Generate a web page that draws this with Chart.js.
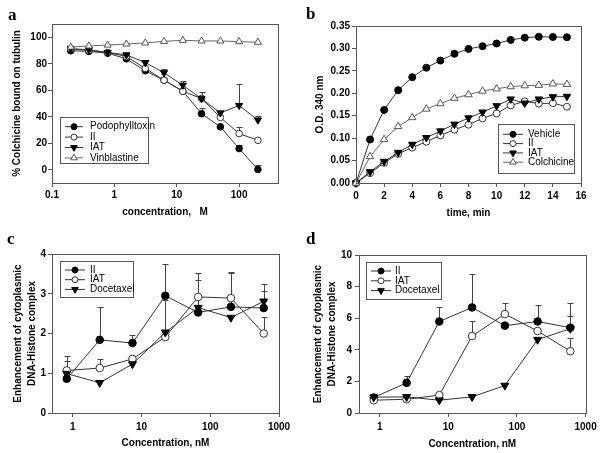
<!DOCTYPE html>
<html>
<head>
<meta charset="UTF-8">
<title>Tubulin / DNA-Histone figure</title>
<script src="https://cdn.jsdelivr.net/npm/chart.js@4"></script>
<style>
    body { margin: 0; background: #fff; }
    #fig { position: relative; width: 601px; height: 453px; }
    #fig canvas { position: absolute; left: 0; top: 0; }
</style>
</head>
<body>
<div id="fig">
    <canvas id="pa" width="601" height="453"></canvas>
    <canvas id="pb" width="601" height="453"></canvas>
    <canvas id="pc" width="601" height="453"></canvas>
    <canvas id="pd" width="601" height="453"></canvas>
</div>

<script>
// panel a - colchicine binding
const concA = [0.2, 0.39, 0.78, 1.56, 3.125, 6.25, 12.5, 25, 50, 100, 200];
const podoA = [89.8, 89.3, 88, 83.7, 74.7, 67.6, 59.4, 42.3, 32.4, 16, 0.2];
const podoErrA = [0, 0, 0, 0, 0, 0, 0, 4.4, 0, 2.6, 3.6];
const iiA = [91.3, 90, 88.5, 85.5, 76.5, 67.6, 59.2, 53.8, 39.5, 27.3, 22.2];
const iiErrA = [0, 0, 0, 0, 0, 0, 0, 0, 1, 5, 0];
const iatA = [91.3, 90.6, 88.5, 86.7, 80.9, 73.2, 63.8, 53.6, 42.9, 48.5, 37.5];
const iatErrA = [0, 0, 0, 0, 0, 2.8, 3, 5.1, 1.7, 16, 3.3];
const vinA = [92.6, 93.4, 94.1, 94.9, 95.7, 96.9, 97.7, 97.2, 97.2, 96.7, 96.2];
const xTicksA = [0.1, 1, 10, 100];
const xLabelsA = ['0.1', '1', '10', '100'];
const yTicksA = [0, 20, 40, 60, 80, 100];
const yLabelsA = ['0', '20', '40', '60', '80', '100'];

// panel b - polymerisation
const timeB = [0, 1, 2, 3, 4, 5, 6, 7, 8, 9, 10, 11, 12, 13, 14, 15];
const vehicleB = [0, 0.097, 0.163, 0.207, 0.236, 0.257, 0.273, 0.288, 0.299, 0.305, 0.311, 0.319, 0.324, 0.326, 0.3255, 0.325];
const iiB = [0, 0.022, 0.045, 0.065, 0.079, 0.092, 0.106, 0.119, 0.130, 0.144, 0.155, 0.173, 0.182, 0.177, 0.178, 0.170];
const iatB = [0, 0.025, 0.048, 0.068, 0.086, 0.101, 0.116, 0.131, 0.145, 0.158, 0.172, 0.187, 0.178, 0.187, 0.192, 0.193];
const colB = [0, 0.059, 0.097, 0.126, 0.146, 0.165, 0.177, 0.189, 0.197, 0.205, 0.210, 0.215, 0.217, 0.218, 0.221, 0.220];
const xTicksB = [0, 2, 4, 6, 8, 10, 12, 14, 16];
const xLabelsB = ['0', '2', '4', '6', '8', '10', '12', '14', '16'];
const yTicksB = [0, 0.05, 0.10, 0.15, 0.20, 0.25, 0.30, 0.35];
const yLabelsB = ['0.00', '0.05', '0.10', '0.15', '0.20', '0.25', '0.30', '0.35'];

// panels c and d - DNA-histone enhancement
const concCD = [0.82, 2.47, 7.4, 22.2, 66.7, 200, 600];
const xTicksCD = [1, 10, 100, 1000];
const xLabelsCD = ['1', '10', '100', '1000'];

const iiC = [0.86, 1.84, 1.76, 2.95, 2.53, 2.67, 2.64];
const iiErrC = [0.57, 0.83, 0.21, 0.80, 0.82, 0.88, 0.61];
const iatC = [1.07, 1.13, 1.36, 1.91, 2.92, 2.89, 2.0];
const iatErrC = [0, 0.24, 0, 0, 0.61, 0.64, 0.41];
const docC = [0.99, 0.76, 1.23, 2.03, 2.65, 2.40, 2.81];
const docErrC = [0.33, 0, 0, 0.82, 0, 0, 0.27];
const yTicksC = [0, 1, 2, 3, 4];
const yLabelsC = ['0', '1', '2', '3', '4'];

const iiD = [0.98, 1.91, 5.79, 6.68, 5.53, 5.79, 5.40];
const iiErrD = [0, 0.45, 0.93, 2.09, 0, 1.06, 1.58];
const iatD = [0.81, 0.87, 1.13, 4.87, 6.26, 5.19, 3.91];
const iatErrD = [0, 0, 0, 0.96, 0.72, 0, 0.83];
const docD = [1.0, 1.02, 0.81, 1.02, 1.74, 4.64, 5.34];
const docErrD = [0, 0, 0, 0, 0, 0, 0.81];
const yTicksD = [0, 2, 4, 6, 8, 10];
const yLabelsD = ['0', '2', '4', '6', '8', '10'];

const FONT = '"Liberation Sans", Arial, sans-serif';
Chart.defaults.font.family = FONT;
Chart.defaults.color = '#000';
Chart.defaults.animation = false;

const tickFont = { size: 10, weight: 'bold' };
const axisColor = '#555';

// marker looks
const filledCircle = { pointStyle: 'circle', pointRotation: 0, pointBackgroundColor: '#000', pointBorderColor: '#000', borderColor: '#333' };
const openCircle = { pointStyle: 'circle', pointRotation: 0, pointBackgroundColor: '#fff', pointBorderColor: '#333', borderColor: '#333' };
const downTri = { pointStyle: 'triangle', pointRotation: 180, pointBackgroundColor: '#000', pointBorderColor: '#000', borderColor: '#333' };
const openTri = { pointStyle: 'triangle', pointRotation: 0, pointBackgroundColor: '#fff', pointBorderColor: '#555', borderColor: '#666' };

// later series sit on top, as in the original figure
function series(label, xs, ys, errs, look, r, idx) {
    return Object.assign({
        label: label,
        data: xs.map((x, i) => ({ x: x, y: ys[i] })),
        errUp: errs,
        order: -idx,
        borderWidth: 1,
        pointRadius: look.pointStyle === 'triangle' ? r + 0.8 : r,
        pointBorderWidth: 1,
        tension: 0,
        clip: false
    }, look);
}

// vertical error bars, up only
const errorBars = {
    id: 'errorBars',
    beforeDatasetsDraw(chart) {
        const { ctx, scales: { x, y } } = chart;
        ctx.save();
        ctx.strokeStyle = '#444';
        ctx.lineWidth = 1;
        chart.data.datasets.forEach(ds => {
            if (!ds.errUp) return;
            ds.data.forEach((p, i) => {
                const e = ds.errUp[i];
                if (!e) return;
                const px = Math.round(x.getPixelForValue(p.x)) + 0.5;
                const y0 = y.getPixelForValue(p.y);
                const y1 = Math.round(y.getPixelForValue(p.y + e)) + 0.5;
                ctx.beginPath();
                ctx.moveTo(px, y0);
                ctx.lineTo(px, y1);
                ctx.moveTo(px - 3, y1);
                ctx.lineTo(px + 3, y1);
                ctx.stroke();
            });
        });
        ctx.restore();
    }
};

// legend box inside the plot
const boxLegend = {
    id: 'boxLegend',
    afterDatasetsDraw(chart, args, o) {
        if (!o.box) return;
        const ctx = chart.ctx;
        const [x0, y0, x1, y1] = o.box;
        ctx.save();
        ctx.fillStyle = '#fff';
        ctx.fillRect(x0, y0, x1 - x0, y1 - y0);
        ctx.strokeStyle = axisColor;
        ctx.lineWidth = 1;
        ctx.strokeRect(x0 + 0.5, y0 + 0.5, x1 - x0, y1 - y0);
        ctx.font = '10px ' + FONT;
        ctx.textBaseline = 'middle';
        chart.data.datasets.forEach((ds, i) => {
            const yy = o.rowY + i * o.rowH;
            ctx.strokeStyle = ds.borderColor;
            ctx.beginPath();
            ctx.moveTo(o.lineX[0], yy);
            ctx.lineTo(o.lineX[1], yy);
            ctx.stroke();
            ctx.fillStyle = ds.pointBackgroundColor;
            ctx.strokeStyle = ds.pointBorderColor;
            const rr = ds.pointStyle === 'triangle' ? o.r + 0.8 : o.r;
            Chart.helpers.drawPoint(ctx, { pointStyle: ds.pointStyle, rotation: ds.pointRotation, radius: rr, borderWidth: 1 },
                (o.lineX[0] + o.lineX[1]) / 2, yy);
            ctx.fillStyle = '#000';
            ctx.fillText(ds.label, o.textX, yy);
        });
        ctx.restore();
    }
};

// full frame + panel letter
const frame = {
    id: 'frame',
    afterDraw(chart, args, o) {
        const { ctx, chartArea: a } = chart;
        ctx.save();
        ctx.strokeStyle = axisColor;
        ctx.lineWidth = 1;
        ctx.strokeRect(Math.round(a.left) + 0.5, Math.round(a.top) + 0.5,
            Math.round(a.right - a.left), Math.round(a.bottom - a.top));
        if (o.letter) {
            ctx.font = 'bold 17px "Liberation Serif", serif';
            ctx.fillStyle = '#000';
            ctx.textBaseline = 'alphabetic';
            ctx.fillText(o.letter, o.lx, o.ly);
        }
        ctx.restore();
    }
};

Chart.register(errorBars, boxLegend, frame);

function xAxis(type, min, max, ticks, labels, title, h, tickPad, titlePad) {
    return {
        type: type, min: min, max: max,
        afterFit: s => { s.height = h; },
        afterBuildTicks: s => { s.ticks = ticks.map(v => ({ value: v })); },
        ticks: { callback: v => labels[ticks.indexOf(v)], font: tickFont, padding: tickPad, maxRotation: 0, autoSkip: false },
        grid: { drawOnChartArea: false, tickLength: 4, color: axisColor },
        border: { color: axisColor },
        title: { display: true, text: title, font: { size: 10, weight: 'bold', lineHeight: 1.2 }, padding: { top: 0, bottom: titlePad } }
    };
}

function yAxis(min, max, ticks, labels, title, w, tickPad, titlePad, lh) {
    return {
        type: 'linear', min: min, max: max,
        afterFit: s => { s.width = w; },
        afterBuildTicks: s => { s.ticks = ticks.map(v => ({ value: v })); },
        ticks: { callback: v => labels[ticks.indexOf(v)], font: tickFont, padding: tickPad, autoSkip: false },
        grid: { drawOnChartArea: false, tickLength: 4, color: axisColor },
        border: { color: axisColor },
        title: { display: true, text: title, font: { size: 10, weight: 'bold', lineHeight: lh }, padding: { top: titlePad, bottom: 0 } }
    };
}

function panel(id, datasets, x, y, pad, legend, letter) {
    new Chart(document.getElementById(id), {
        type: 'line',
        data: { datasets: datasets },
        options: {
            responsive: false,
            layout: { padding: pad },
            scales: { x: x, y: y },
            plugins: {
                legend: { display: false },
                tooltip: { enabled: false },
                boxLegend: legend,
                frame: letter
            }
        }
    });
}

panel('pa', [
    series('Podophylltoxin', concA, podoA, podoErrA, filledCircle, 3.3, 0),
    series('II', concA, iiA, iiErrA, openCircle, 3.3, 1),
    series('IAT', concA, iatA, iatErrA, downTri, 3.3, 2),
    series('Vinblastine', concA, vinA, null, openTri, 3.3, 3)
],
    xAxis('logarithmic', 0.1, 420, xTicksA, xLabelsA, 'concentration,   M', 36, 2.5, 1),
    yAxis(-10, 110, yTicksA, yLabelsA, '% Colchicine bound on tubulin', 47, 1, 6.5, 1.2),
    { left: 5, top: 24, right: 323, bottom: 234 },
    { box: [60, 117, 148, 163], rowY: 126.7, rowH: 10.4, lineX: [65, 83], textX: 90, r: 3 },
    { letter: 'a', lx: 8, ly: 20 });

panel('pb', [
    series('Vehicle', timeB, vehicleB, null, filledCircle, 3.5, 0),
    series('II', timeB, iiB, null, openCircle, 3.5, 1),
    series('IAT', timeB, iatB, null, downTri, 3.5, 2),
    series('Colchicine', timeB, colB, null, openTri, 3.5, 3)
],
    xAxis('linear', 0, 16, xTicksB, xLabelsB, 'time, min', 36, 3.7, 0),
    yAxis(0, 0.35, yTicksB, yLabelsB, 'O.D. 340 nm', 47, 2, 5.7, 1.2),
    { left: 309, top: 26, right: 20, bottom: 234 },
    { box: [498, 124, 574, 173], rowY: 134.3, rowH: 9.3, lineX: [503, 523], textX: 528, r: 3 },
    { letter: 'b', lx: 306, ly: 19 });

panel('pc', [
    series('II', concCD, iiC, iiErrC, filledCircle, 3.8, 0),
    series('IAT', concCD, iatC, iatErrC, openCircle, 3.8, 1),
    series('Docetaxel', concCD, docC, docErrC, downTri, 3.8, 2)
],
    xAxis('logarithmic', 0.5, 1000, xTicksCD, xLabelsCD, 'Concentration, nM', 36, 4, 0),
    yAxis(0, 4, yTicksC, yLabelsC, ['Enhancement of cytoplasmic', 'DNA-Histone complex'], 47, 2, 6.3, 1.4),
    { left: 5, top: 254, right: 322, bottom: 4 },
    { box: [60, 261, 133, 297], rowY: 270, rowH: 9.7, lineX: [65, 85], textX: 90, r: 3 },
    { letter: 'c', lx: 7, ly: 244 });

panel('pd', [
    series('II', concCD, iiD, iiErrD, filledCircle, 3.8, 0),
    series('IAT', concCD, iatD, iatErrD, openCircle, 3.8, 1),
    series('Docetaxel', concCD, docD, docErrD, downTri, 3.8, 2)
],
    xAxis('logarithmic', 0.5, 1000, xTicksCD, xLabelsCD, 'Concentration, nM', 37, 4.3, 0),
    yAxis(0, 10, yTicksD, yLabelsD, ['Enhancement of cytoplasmic', 'DNA-Histone complex'], 53, 3, 5.3, 1.4),
    { left: 306, top: 255, right: 15, bottom: 3 },
    { box: [366, 262, 441, 299], rowY: 271, rowH: 9.8, lineX: [371, 391], textX: 395, r: 3 },
    { letter: 'd', lx: 306, ly: 244 });
</script>
</body>
</html>
